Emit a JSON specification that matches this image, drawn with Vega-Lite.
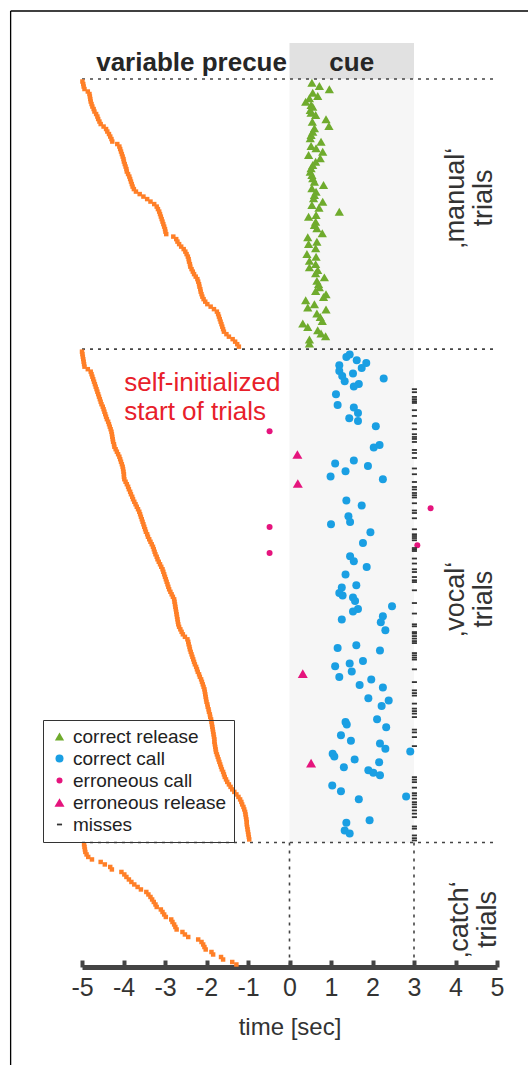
{
"$schema": "https://vega.github.io/schema/vega-lite/v6.json",
"autosize": "none",
"width": 415,
"height": 924,
"padding": {"left": 82, "top": 43, "right": 31, "bottom": 98},
"background": "white",
"config": {
  "font": "Liberation Sans",
  "view": {"stroke": null},
  "axisX": {"domainColor": "#444444", "domainWidth": 5, "tickColor": "#444444", "tickWidth": 4, "tickSize": -7, "labelFontSize": 25, "labelColor": "#333333", "labelPadding": 15, "labelFlush": false, "labelOverlap": false, "titleFontSize": 24, "titleFontWeight": "normal", "titleColor": "#333333", "titlePadding": 15, "grid": false, "values": [-5,-4,-3,-2,-1,0,1,2,3,4,5], "labelExpr": "'' + datum.value", "labelFont": "Liberation Sans", "titleFont": "Liberation Sans"}
},
"datasets": {
  "rects": [{"t":0,"t2":3,"n":0,"n2":305.2,"k":"shade"},{"t":0,"t2":3,"n":-14.4,"n2":0,"k":"head"}],
  "rules": [{"t":-5,"t2":5,"n":0,"n2":0},{"t":-5,"t2":5,"n":108,"n2":108},{"t":-5,"t2":5,"n":305.2,"n2":305.2},{"t":0,"t2":0,"n":305.2,"n2":355},{"t":3,"t2":3,"n":305.2,"n2":355}],
  "frame": [{"t":-6.72,"t2":6.8,"n":-27.2,"n2":-27.2},{"t":-6.72,"t2":-6.72,"n":-27.2,"n2":400}],
  "txt": [{"t":-2.36,"n":-6.4,"lab":"variable precue","g":"head"},{"t":1.5,"n":-6.4,"lab":"cue","g":"head"},{"t":-3.98,"n":121.6,"lab":"self-initialized\nstart of trials","g":"red"},{"t":4.02,"n":47.6,"lab":"‚manual‘\ntrials","g":"side"},{"t":4.02,"n":208,"lab":"‚vocal‘\ntrials","g":"side"},{"t":4.1,"n":336,"lab":"‚catch‘\ntrials","g":"side"}],
  "pre": [
{"n":1,"t":-4.99},{"n":2,"t":-4.97},{"n":3,"t":-4.96},{"n":4,"t":-4.94},{"n":5,"t":-4.86},{"n":6,"t":-4.82},{"n":7,"t":-4.81},{"n":8,"t":-4.8},{"n":9,"t":-4.79},{"n":10,"t":-4.77},{"n":11,"t":-4.75},{"n":12,"t":-4.72},{"n":13,"t":-4.7},{"n":14,"t":-4.66},{"n":15,"t":-4.63},{"n":16,"t":-4.61},{"n":17,"t":-4.58},{"n":18,"t":-4.55},{"n":19,"t":-4.48},{"n":20,"t":-4.42},{"n":21,"t":-4.39},{"n":22,"t":-4.35},{"n":23,"t":-4.32},{"n":24,"t":-4.29},{"n":25,"t":-4.27},{"n":26,"t":-4.15},{"n":27,"t":-4.1},{"n":28,"t":-4.08},{"n":29,"t":-4.06},{"n":30,"t":-4.04},{"n":31,"t":-4.02},{"n":32,"t":-4},{"n":33,"t":-3.99},{"n":34,"t":-3.97},{"n":35,"t":-3.95},{"n":36,"t":-3.93},{"n":37,"t":-3.92},{"n":38,"t":-3.89},{"n":39,"t":-3.86},{"n":40,"t":-3.84},{"n":41,"t":-3.82},{"n":42,"t":-3.8},{"n":43,"t":-3.78},{"n":44,"t":-3.75},{"n":45,"t":-3.7},{"n":46,"t":-3.61},{"n":47,"t":-3.52},{"n":48,"t":-3.43},{"n":49,"t":-3.35},{"n":50,"t":-3.26},{"n":51,"t":-3.2},{"n":52,"t":-3.17},{"n":53,"t":-3.14},{"n":54,"t":-3.12},{"n":55,"t":-3.1},{"n":56,"t":-3.08},{"n":57,"t":-3.06},{"n":58,"t":-3.04},{"n":59,"t":-3.02},{"n":60,"t":-3},{"n":61,"t":-2.99},{"n":62,"t":-2.97},{"n":63,"t":-2.8},{"n":64,"t":-2.73},{"n":65,"t":-2.7},{"n":66,"t":-2.66},{"n":67,"t":-2.61},{"n":68,"t":-2.55},{"n":69,"t":-2.51},{"n":70,"t":-2.48},{"n":71,"t":-2.45},{"n":72,"t":-2.43},{"n":73,"t":-2.42},{"n":74,"t":-2.4},{"n":75,"t":-2.39},{"n":76,"t":-2.36},{"n":77,"t":-2.33},{"n":78,"t":-2.3},{"n":79,"t":-2.26},{"n":80,"t":-2.22},{"n":81,"t":-2.2},{"n":82,"t":-2.18},{"n":83,"t":-2.17},{"n":84,"t":-2.15},{"n":85,"t":-2.14},{"n":86,"t":-2.12},{"n":87,"t":-2.1},{"n":88,"t":-2.07},{"n":89,"t":-2.03},{"n":90,"t":-1.98},{"n":91,"t":-1.9},{"n":92,"t":-1.82},{"n":93,"t":-1.75},{"n":94,"t":-1.72},{"n":95,"t":-1.7},{"n":96,"t":-1.68},{"n":97,"t":-1.66},{"n":98,"t":-1.64},{"n":99,"t":-1.62},{"n":100,"t":-1.6},{"n":101,"t":-1.58},{"n":102,"t":-1.52},{"n":103,"t":-1.46},{"n":104,"t":-1.37},{"n":105,"t":-1.31},{"n":106,"t":-1.26},{"n":107,"t":-1.22},
{"n":109,"t":-5},{"n":110,"t":-4.99},{"n":111,"t":-4.98},{"n":112,"t":-4.97},{"n":113,"t":-4.96},{"n":114,"t":-4.95},{"n":115,"t":-4.94},{"n":116,"t":-4.86},{"n":117,"t":-4.79},{"n":118,"t":-4.77},{"n":119,"t":-4.75},{"n":120,"t":-4.73},{"n":121,"t":-4.71},{"n":122,"t":-4.69},{"n":123,"t":-4.67},{"n":124,"t":-4.65},{"n":125,"t":-4.63},{"n":126,"t":-4.61},{"n":127,"t":-4.59},{"n":128,"t":-4.57},{"n":129,"t":-4.55},{"n":130,"t":-4.53},{"n":131,"t":-4.5},{"n":132,"t":-4.48},{"n":133,"t":-4.46},{"n":134,"t":-4.44},{"n":135,"t":-4.42},{"n":136,"t":-4.4},{"n":137,"t":-4.37},{"n":138,"t":-4.35},{"n":139,"t":-4.33},{"n":140,"t":-4.31},{"n":141,"t":-4.29},{"n":142,"t":-4.28},{"n":143,"t":-4.27},{"n":144,"t":-4.26},{"n":145,"t":-4.25},{"n":146,"t":-4.23},{"n":147,"t":-4.22},{"n":148,"t":-4.19},{"n":149,"t":-4.16},{"n":150,"t":-4.13},{"n":151,"t":-4.1},{"n":152,"t":-4.08},{"n":153,"t":-4.06},{"n":154,"t":-4.04},{"n":155,"t":-4.02},{"n":156,"t":-4.01},{"n":157,"t":-4},{"n":158,"t":-3.99},{"n":159,"t":-3.99},{"n":160,"t":-3.98},{"n":161,"t":-3.95},{"n":162,"t":-3.92},{"n":163,"t":-3.89},{"n":164,"t":-3.87},{"n":165,"t":-3.84},{"n":166,"t":-3.82},{"n":167,"t":-3.79},{"n":168,"t":-3.77},{"n":169,"t":-3.74},{"n":170,"t":-3.71},{"n":171,"t":-3.68},{"n":172,"t":-3.65},{"n":173,"t":-3.62},{"n":174,"t":-3.6},{"n":175,"t":-3.58},{"n":176,"t":-3.56},{"n":177,"t":-3.54},{"n":178,"t":-3.52},{"n":179,"t":-3.5},{"n":180,"t":-3.48},{"n":181,"t":-3.46},{"n":182,"t":-3.43},{"n":183,"t":-3.41},{"n":184,"t":-3.38},{"n":185,"t":-3.35},{"n":186,"t":-3.32},{"n":187,"t":-3.29},{"n":188,"t":-3.27},{"n":189,"t":-3.25},{"n":190,"t":-3.23},{"n":191,"t":-3.2},{"n":192,"t":-3.18},{"n":193,"t":-3.15},{"n":194,"t":-3.12},{"n":195,"t":-3.09},{"n":196,"t":-3.06},{"n":197,"t":-3.04},{"n":198,"t":-3.02},{"n":199,"t":-3},{"n":200,"t":-2.98},{"n":201,"t":-2.96},{"n":202,"t":-2.94},{"n":203,"t":-2.92},{"n":204,"t":-2.9},{"n":205,"t":-2.87},{"n":206,"t":-2.84},{"n":207,"t":-2.81},{"n":208,"t":-2.78},{"n":209,"t":-2.77},{"n":210,"t":-2.76},{"n":211,"t":-2.75},{"n":212,"t":-2.74},{"n":213,"t":-2.73},{"n":214,"t":-2.72},{"n":215,"t":-2.71},{"n":216,"t":-2.7},{"n":217,"t":-2.69},{"n":218,"t":-2.68},{"n":219,"t":-2.66},{"n":220,"t":-2.63},{"n":221,"t":-2.6},{"n":222,"t":-2.57},{"n":223,"t":-2.52},{"n":224,"t":-2.46},{"n":225,"t":-2.44},{"n":226,"t":-2.43},{"n":227,"t":-2.41},{"n":228,"t":-2.4},{"n":229,"t":-2.38},{"n":230,"t":-2.36},{"n":231,"t":-2.34},{"n":232,"t":-2.32},{"n":233,"t":-2.3},{"n":234,"t":-2.28},{"n":235,"t":-2.25},{"n":236,"t":-2.23},{"n":237,"t":-2.21},{"n":238,"t":-2.18},{"n":239,"t":-2.16},{"n":240,"t":-2.13},{"n":241,"t":-2.11},{"n":242,"t":-2.09},{"n":243,"t":-2.07},{"n":244,"t":-2.05},{"n":245,"t":-2.04},{"n":246,"t":-2.03},{"n":247,"t":-2.02},{"n":248,"t":-2.01},{"n":249,"t":-2},{"n":250,"t":-1.98},{"n":251,"t":-1.97},{"n":252,"t":-1.95},{"n":253,"t":-1.94},{"n":254,"t":-1.92},{"n":255,"t":-1.91},{"n":256,"t":-1.89},{"n":257,"t":-1.88},{"n":258,"t":-1.87},{"n":259,"t":-1.86},{"n":260,"t":-1.85},{"n":261,"t":-1.84},{"n":262,"t":-1.83},{"n":263,"t":-1.82},{"n":264,"t":-1.81},{"n":265,"t":-1.81},{"n":266,"t":-1.8},{"n":267,"t":-1.79},{"n":268,"t":-1.78},{"n":269,"t":-1.77},{"n":270,"t":-1.75},{"n":271,"t":-1.73},{"n":272,"t":-1.71},{"n":273,"t":-1.69},{"n":274,"t":-1.67},{"n":275,"t":-1.65},{"n":276,"t":-1.63},{"n":277,"t":-1.6},{"n":278,"t":-1.58},{"n":279,"t":-1.56},{"n":280,"t":-1.53},{"n":281,"t":-1.5},{"n":282,"t":-1.46},{"n":283,"t":-1.42},{"n":284,"t":-1.38},{"n":285,"t":-1.33},{"n":286,"t":-1.28},{"n":287,"t":-1.23},{"n":288,"t":-1.19},{"n":289,"t":-1.16},{"n":290,"t":-1.14},{"n":291,"t":-1.11},{"n":292,"t":-1.09},{"n":293,"t":-1.07},{"n":294,"t":-1.06},{"n":295,"t":-1.05},{"n":296,"t":-1.04},{"n":297,"t":-1.03},{"n":298,"t":-1.03},{"n":299,"t":-1.02},{"n":300,"t":-1.01},{"n":301,"t":-1},{"n":302,"t":-0.99},{"n":303,"t":-0.98},{"n":304,"t":-0.97},
{"n":306,"t":-4.95},{"n":307,"t":-4.94},{"n":308,"t":-4.93},{"n":309,"t":-4.92},{"n":310,"t":-4.89},{"n":311,"t":-4.85},{"n":312,"t":-4.76},{"n":313,"t":-4.55},{"n":314,"t":-4.45},{"n":315,"t":-4.32},{"n":316,"t":-4.28},{"n":317,"t":-4.05},{"n":318,"t":-3.98},{"n":319,"t":-3.93},{"n":320,"t":-3.87},{"n":321,"t":-3.81},{"n":322,"t":-3.74},{"n":323,"t":-3.66},{"n":324,"t":-3.58},{"n":325,"t":-3.45},{"n":326,"t":-3.4},{"n":327,"t":-3.35},{"n":328,"t":-3.31},{"n":329,"t":-3.27},{"n":330,"t":-3.23},{"n":331,"t":-3.2},{"n":332,"t":-3.1},{"n":333,"t":-3.06},{"n":334,"t":-3.02},{"n":335,"t":-2.98},{"n":336,"t":-2.85},{"n":337,"t":-2.82},{"n":338,"t":-2.78},{"n":339,"t":-2.75},{"n":340,"t":-2.72},{"n":341,"t":-2.58},{"n":342,"t":-2.52},{"n":343,"t":-2.44},{"n":344,"t":-2.2},{"n":345,"t":-2.12},{"n":346,"t":-2.08},{"n":347,"t":-2.05},{"n":348,"t":-2.02},{"n":349,"t":-1.88},{"n":350,"t":-1.84},{"n":351,"t":-1.65},{"n":352,"t":-1.6},{"n":353,"t":-1.38},{"n":354,"t":-1.28}
  ],
  "ev": [
{"n":1.5,"t":0.54,"e":"correct release"},{"n":2.8,"t":0.72,"e":"correct release"},{"n":4.1,"t":0.96,"e":"correct release"},{"n":5.5,"t":0.56,"e":"correct release"},{"n":6.8,"t":0.68,"e":"correct release"},{"n":7.7,"t":0.48,"e":"correct release"},{"n":9.1,"t":0.39,"e":"correct release"},{"n":10.4,"t":0.52,"e":"correct release"},{"n":11.1,"t":0.56,"e":"correct release"},{"n":12.4,"t":0.5,"e":"correct release"},{"n":13.5,"t":0.52,"e":"correct release"},{"n":14.4,"t":0.63,"e":"correct release"},{"n":16.1,"t":0.88,"e":"correct release"},{"n":17.1,"t":0.55,"e":"correct release"},{"n":18.8,"t":0.95,"e":"correct release"},{"n":19.7,"t":0.6,"e":"correct release"},{"n":21.1,"t":0.56,"e":"correct release"},{"n":22.4,"t":0.52,"e":"correct release"},{"n":23.7,"t":0.5,"e":"correct release"},{"n":25.1,"t":0.76,"e":"correct release"},{"n":26.8,"t":0.52,"e":"correct release"},{"n":27.7,"t":0.64,"e":"correct release"},{"n":29.1,"t":0.8,"e":"correct release"},{"n":30.4,"t":0.46,"e":"correct release"},{"n":31.7,"t":0.74,"e":"correct release"},{"n":33.1,"t":0.63,"e":"correct release"},{"n":34.4,"t":0.56,"e":"correct release"},{"n":35.7,"t":0.52,"e":"correct release"},{"n":37.1,"t":0.5,"e":"correct release"},{"n":38.4,"t":0.54,"e":"correct release"},{"n":39.7,"t":0.56,"e":"correct release"},{"n":41.1,"t":0.6,"e":"correct release"},{"n":42.4,"t":0.82,"e":"correct release"},{"n":43.7,"t":0.54,"e":"correct release"},{"n":45.1,"t":0.64,"e":"correct release"},{"n":46.4,"t":0.6,"e":"correct release"},{"n":47.7,"t":0.58,"e":"correct release"},{"n":49.1,"t":0.8,"e":"correct release"},{"n":50.4,"t":0.54,"e":"correct release"},{"n":51.5,"t":0.71,"e":"correct release"},{"n":53.1,"t":1.2,"e":"correct release"},{"n":54.4,"t":0.64,"e":"correct release"},{"n":55.1,"t":0.46,"e":"correct release"},{"n":57.1,"t":0.63,"e":"correct release"},{"n":58.4,"t":0.6,"e":"correct release"},{"n":59.7,"t":0.66,"e":"correct release"},{"n":61.7,"t":0.79,"e":"correct release"},{"n":63.3,"t":0.44,"e":"correct release"},{"n":65.1,"t":0.66,"e":"correct release"},{"n":66,"t":0.46,"e":"correct release"},{"n":67.7,"t":0.63,"e":"correct release"},{"n":70,"t":0.42,"e":"correct release"},{"n":71.1,"t":0.64,"e":"correct release"},{"n":72.7,"t":0.48,"e":"correct release"},{"n":74,"t":0.63,"e":"correct release"},{"n":75.3,"t":0.48,"e":"correct release"},{"n":76.4,"t":0.68,"e":"correct release"},{"n":77.7,"t":0.63,"e":"correct release"},{"n":79.3,"t":0.84,"e":"correct release"},{"n":80.7,"t":0.66,"e":"correct release"},{"n":82,"t":0.7,"e":"correct release"},{"n":83.3,"t":0.72,"e":"correct release"},{"n":84.7,"t":0.63,"e":"correct release"},{"n":86,"t":0.88,"e":"correct release"},{"n":87.1,"t":0.82,"e":"correct release"},{"n":88.4,"t":0.39,"e":"correct release"},{"n":90,"t":0.6,"e":"correct release"},{"n":91.3,"t":0.44,"e":"correct release"},{"n":92.1,"t":0.88,"e":"correct release"},{"n":93.7,"t":0.66,"e":"correct release"},{"n":95.1,"t":0.74,"e":"correct release"},{"n":96.7,"t":0.79,"e":"correct release"},{"n":97.7,"t":0.32,"e":"correct release"},{"n":99.1,"t":0.44,"e":"correct release"},{"n":100.4,"t":0.68,"e":"correct release"},{"n":101.7,"t":0.76,"e":"correct release"},{"n":102.8,"t":0.87,"e":"correct release"},{"n":104.1,"t":0.48,"e":"correct release"},{"n":105.7,"t":0.48,"e":"correct release"},
{"n":111.1,"t":1.37,"e":"correct call"},{"n":110.1,"t":1.45,"e":"correct call"},{"n":112.4,"t":1.62,"e":"correct call"},{"n":113.5,"t":1.85,"e":"correct call"},{"n":114.4,"t":1.2,"e":"correct call"},{"n":115.5,"t":1.74,"e":"correct call"},{"n":116.7,"t":1.2,"e":"correct call"},{"n":117.7,"t":1.53,"e":"correct call"},{"n":118.7,"t":1.27,"e":"correct call"},{"n":119.7,"t":2.27,"e":"correct call"},{"n":120.8,"t":1.33,"e":"correct call"},{"n":121.9,"t":1.67,"e":"correct call"},{"n":122.9,"t":1.55,"e":"correct call"},{"n":126,"t":1.12,"e":"correct call"},{"n":130.3,"t":1.16,"e":"correct call"},{"n":131.3,"t":1.55,"e":"correct call"},{"n":133.5,"t":1.65,"e":"correct call"},{"n":135.6,"t":1.44,"e":"correct call"},{"n":136.7,"t":1.65,"e":"correct call"},{"n":138.8,"t":2.08,"e":"correct call"},{"n":146.3,"t":2.17,"e":"correct call"},{"n":147.3,"t":2.03,"e":"correct call"},{"n":152.5,"t":1.55,"e":"correct call"},{"n":153.7,"t":1.1,"e":"correct call"},{"n":154.7,"t":1.89,"e":"correct call"},{"n":156.8,"t":1.35,"e":"correct call"},{"n":158.9,"t":0.99,"e":"correct call"},{"n":160,"t":2.25,"e":"correct call"},{"n":168.5,"t":1.37,"e":"correct call"},{"n":170.5,"t":1.74,"e":"correct call"},{"n":174.8,"t":1.42,"e":"correct call"},{"n":177.1,"t":1.46,"e":"correct call"},{"n":178,"t":1,"e":"correct call"},{"n":181.2,"t":1.95,"e":"correct call"},{"n":185.5,"t":1.77,"e":"correct call"},{"n":190.8,"t":1.46,"e":"correct call"},{"n":192.8,"t":1.55,"e":"correct call"},{"n":195.1,"t":1.86,"e":"correct call"},{"n":198.1,"t":1.35,"e":"correct call"},{"n":202.4,"t":1.61,"e":"correct call"},{"n":203.3,"t":1.26,"e":"correct call"},
{"n":205.5,"t":1.2,"e":"correct call"},{"n":206.5,"t":1.28,"e":"correct call"},{"n":207.3,"t":1.53,"e":"correct call"},{"n":208.7,"t":1.58,"e":"correct call"},{"n":210.8,"t":2.47,"e":"correct call"},{"n":211.9,"t":1.65,"e":"correct call"},{"n":212.9,"t":1.53,"e":"correct call"},{"n":214.8,"t":2.25,"e":"correct call"},{"n":216.1,"t":1.26,"e":"correct call"},{"n":217.2,"t":2.2,"e":"correct call"},{"n":220.4,"t":2.31,"e":"correct call"},{"n":226.4,"t":1.61,"e":"correct call"},{"n":227.5,"t":1.16,"e":"correct call"},{"n":228.5,"t":2.18,"e":"correct call"},{"n":232.7,"t":1.77,"e":"correct call"},{"n":233.7,"t":1.45,"e":"correct call"},{"n":234.8,"t":1.1,"e":"correct call"},{"n":236.9,"t":1.5,"e":"correct call"},{"n":239.1,"t":1.2,"e":"correct call"},{"n":240.1,"t":1.97,"e":"correct call"},{"n":242.3,"t":1.69,"e":"correct call"},{"n":243.3,"t":2.25,"e":"correct call"},{"n":247.6,"t":1.9,"e":"correct call"},{"n":248.5,"t":2.39,"e":"correct call"},{"n":250.7,"t":2.22,"e":"correct call"},{"n":256,"t":2.11,"e":"correct call"},{"n":257.1,"t":1.35,"e":"correct call"},{"n":258.1,"t":1.38,"e":"correct call"},{"n":259.2,"t":2.33,"e":"correct call"},{"n":262.4,"t":1.24,"e":"correct call"},{"n":264.5,"t":1.48,"e":"correct call"},{"n":265.6,"t":2.18,"e":"correct call"},{"n":267.7,"t":2.31,"e":"correct call"},{"n":268.8,"t":2.91,"e":"correct call"},{"n":269.7,"t":1.04,"e":"correct call"},{"n":270.8,"t":1.08,"e":"correct call"},{"n":272,"t":1.57,"e":"correct call"},{"n":273.1,"t":2.16,"e":"correct call"},{"n":275.1,"t":1.31,"e":"correct call"},{"n":276.3,"t":1.9,"e":"correct call"},{"n":277.3,"t":2.02,"e":"correct call"},{"n":278.3,"t":2.18,"e":"correct call"},{"n":282.4,"t":1.03,"e":"correct call"},{"n":284.7,"t":1.24,"e":"correct call"},{"n":286.8,"t":2.81,"e":"correct call"},{"n":287.9,"t":1.67,"e":"correct call"},{"n":296.3,"t":1.93,"e":"correct call"},{"n":297.3,"t":1.37,"e":"correct call"},{"n":300.4,"t":1.33,"e":"correct call"},{"n":301.6,"t":1.45,"e":"correct call"},
{"n":140.8,"t":-0.48,"e":"erroneous call"},{"n":179.1,"t":-0.48,"e":"erroneous call"},{"n":189.5,"t":-0.48,"e":"erroneous call"},{"n":171.6,"t":3.4,"e":"erroneous call"},{"n":186.4,"t":3.08,"e":"erroneous call"},
{"n":150.1,"t":0.19,"e":"erroneous release"},{"n":161.7,"t":0.2,"e":"erroneous release"},{"n":237.7,"t":0.32,"e":"erroneous release"},{"n":273.5,"t":0.52,"e":"erroneous release"},
{"n":124,"t":3.01,"e":"misses"},{"n":125.2,"t":3.01,"e":"misses"},{"n":127.1,"t":3.01,"e":"misses"},{"n":128,"t":3.01,"e":"misses"},{"n":128.8,"t":3.01,"e":"misses"},{"n":129.5,"t":3.01,"e":"misses"},{"n":132.4,"t":3.01,"e":"misses"},{"n":134.7,"t":3.01,"e":"misses"},{"n":137.7,"t":3.01,"e":"misses"},{"n":140,"t":3.01,"e":"misses"},{"n":142,"t":3.01,"e":"misses"},{"n":143.1,"t":3.01,"e":"misses"},{"n":143.9,"t":3.01,"e":"misses"},{"n":145.1,"t":3.01,"e":"misses"},{"n":148.3,"t":3.01,"e":"misses"},{"n":149.5,"t":3.01,"e":"misses"},{"n":151.5,"t":3.01,"e":"misses"},{"n":155.7,"t":3.01,"e":"misses"},{"n":158,"t":3.01,"e":"misses"},{"n":161.1,"t":3.01,"e":"misses"},{"n":163.1,"t":3.01,"e":"misses"},{"n":164.1,"t":3.01,"e":"misses"},{"n":165.5,"t":3.01,"e":"misses"},{"n":166.4,"t":3.01,"e":"misses"},{"n":167.3,"t":3.01,"e":"misses"},{"n":169.6,"t":3.01,"e":"misses"},{"n":172.5,"t":3.01,"e":"misses"},{"n":173.5,"t":3.01,"e":"misses"},{"n":175.6,"t":3.01,"e":"misses"},{"n":180,"t":3.01,"e":"misses"},{"n":182,"t":3.01,"e":"misses"},{"n":182.7,"t":3.01,"e":"misses"},{"n":183.5,"t":3.01,"e":"misses"},{"n":184.4,"t":3.01,"e":"misses"},{"n":187.5,"t":3.01,"e":"misses"},{"n":188.1,"t":3.01,"e":"misses"},{"n":188.7,"t":3.01,"e":"misses"},{"n":191.7,"t":3.01,"e":"misses"},{"n":193.7,"t":3.01,"e":"misses"},{"n":196,"t":3.01,"e":"misses"},{"n":197.1,"t":3.01,"e":"misses"},{"n":199.1,"t":3.01,"e":"misses"},{"n":200.4,"t":3.01,"e":"misses"},{"n":201.1,"t":3.01,"e":"misses"},{"n":204.4,"t":3.01,"e":"misses"},{"n":209.5,"t":3.01,"e":"misses"},{"n":213.7,"t":3.01,"e":"misses"},{"n":218,"t":3.01,"e":"misses"},{"n":218.8,"t":3.01,"e":"misses"},{"n":221.1,"t":3.01,"e":"misses"},{"n":221.7,"t":3.01,"e":"misses"},{"n":222.7,"t":3.01,"e":"misses"},{"n":223.7,"t":3.01,"e":"misses"},{"n":224.7,"t":3.01,"e":"misses"},{"n":225.5,"t":3.01,"e":"misses"},{"n":229.5,"t":3.01,"e":"misses"},{"n":230.4,"t":3.01,"e":"misses"},{"n":231.3,"t":3.01,"e":"misses"},{"n":232.1,"t":3.01,"e":"misses"},{"n":236,"t":3.01,"e":"misses"},{"n":241.1,"t":3.01,"e":"misses"},{"n":244.4,"t":3.01,"e":"misses"},{"n":245.5,"t":3.01,"e":"misses"},{"n":246.5,"t":3.01,"e":"misses"},{"n":249.7,"t":3.01,"e":"misses"},{"n":251.7,"t":3.01,"e":"misses"},{"n":252.7,"t":3.01,"e":"misses"},{"n":253.7,"t":3.01,"e":"misses"},{"n":255.1,"t":3.01,"e":"misses"},{"n":260.1,"t":3.01,"e":"misses"},{"n":261.2,"t":3.01,"e":"misses"},{"n":263.1,"t":3.01,"e":"misses"},{"n":266.7,"t":3.01,"e":"misses"},{"n":279.1,"t":3.01,"e":"misses"},{"n":280.1,"t":3.01,"e":"misses"},{"n":281.1,"t":3.01,"e":"misses"},{"n":283.3,"t":3.01,"e":"misses"},{"n":285.5,"t":3.01,"e":"misses"},{"n":286.4,"t":3.01,"e":"misses"},{"n":287.7,"t":3.01,"e":"misses"},{"n":289.1,"t":3.01,"e":"misses"},{"n":290,"t":3.01,"e":"misses"},{"n":291.1,"t":3.01,"e":"misses"},{"n":292.4,"t":3.01,"e":"misses"},{"n":293.7,"t":3.01,"e":"misses"},{"n":295.1,"t":3.01,"e":"misses"},{"n":298.8,"t":3.01,"e":"misses"},{"n":299.7,"t":3.01,"e":"misses"},{"n":302.4,"t":3.01,"e":"misses"},{"n":303.5,"t":3.01,"e":"misses"},{"n":304.4,"t":3.01,"e":"misses"}
  ]
},
"encoding": {
  "x": {"field": "t", "type": "quantitative", "scale": {"domain": [-5, 5], "nice": false, "zero": false}, "title": "time [sec]"},
  "y": {"field": "n", "type": "quantitative", "scale": {"domain": [-14.4, 355], "reverse": true, "nice": false, "zero": false}, "axis": null}
},
"layer": [
  {"data": {"name": "rects"}, "transform": [{"filter": "datum.k === 'shade'"}], "mark": {"type": "rect", "color": "#f6f6f6"}, "encoding": {"x2": {"field": "t2"}, "y2": {"field": "n2"}}},
  {"data": {"name": "rects"}, "transform": [{"filter": "datum.k === 'head'"}], "mark": {"type": "rect", "color": "#e1e1e1"}, "encoding": {"x2": {"field": "t2"}, "y2": {"field": "n2"}}},
  {"data": {"name": "rules"}, "mark": {"type": "rule", "color": "#444444", "strokeDash": [3, 5], "strokeWidth": 1.6}, "encoding": {"x2": {"field": "t2"}, "y2": {"field": "n2"}}},
  {"data": {"name": "pre"}, "mark": {"type": "point", "shape": "square", "filled": true, "color": "#ff7f27", "size": 20, "opacity": 1}},
  {"data": {"name": "ev"}, "mark": {"type": "point", "filled": true, "opacity": 1},
   "encoding": {
     "color": {"field": "e", "type": "nominal", "scale": {"domain": ["correct release", "correct call", "erroneous call", "erroneous release", "misses"], "range": ["#6fab2d", "#1a9fe3", "#e5147d", "#e5147d", "#333333"]},
       "legend": {"title": null, "orient": "none", "legendX": -39, "legendY": 677, "strokeColor": "#333333", "padding": 7, "labelFontSize": 19, "labelColor": "#222222", "rowPadding": 2, "labelOffset": 4, "symbolOpacity": 1, "labelFont": "Liberation Sans"}},
     "shape": {"field": "e", "type": "nominal", "scale": {"domain": ["correct release", "correct call", "erroneous call", "erroneous release", "misses"], "range": ["triangle-up", "circle", "circle", "triangle-up", "M-1,-0.35H1V0.35H-1Z"]},
       "legend": {"title": null, "orient": "none", "legendX": -39, "legendY": 677, "strokeColor": "#333333", "padding": 7, "labelFontSize": 19, "labelColor": "#222222", "rowPadding": 2, "labelOffset": 4, "symbolOpacity": 1, "labelFont": "Liberation Sans"}},
     "size": {"field": "e", "type": "nominal", "scale": {"type": "ordinal", "domain": ["correct release", "correct call", "erroneous call", "erroneous release", "misses"], "range": [85, 64, 36, 100, 26]},
       "legend": {"title": null, "orient": "none", "legendX": -39, "legendY": 677, "strokeColor": "#333333", "padding": 7, "labelFontSize": 19, "labelColor": "#222222", "rowPadding": 2, "labelOffset": 4, "symbolOpacity": 1, "labelFont": "Liberation Sans"}}
   }},
  {"data": {"name": "txt"}, "transform": [{"filter": "datum.g === 'head'"}], "mark": {"type": "text", "fontSize": 26, "fontWeight": "bold", "color": "#262626", "align": "center", "baseline": "middle", "font": "Liberation Sans"}, "encoding": {"text": {"field": "lab"}}},
  {"data": {"name": "txt"}, "transform": [{"filter": "datum.g === 'red'"}], "mark": {"type": "text", "fontSize": 26, "color": "#e8202a", "align": "left", "baseline": "middle", "lineBreak": "\n", "lineHeight": 29, "font": "Liberation Sans"}, "encoding": {"text": {"field": "lab"}}},
  {"data": {"name": "txt"}, "transform": [{"filter": "datum.g === 'side'"}], "mark": {"type": "text", "fontSize": 27, "color": "#333333", "align": "center", "baseline": "middle", "angle": 270, "lineBreak": "\n", "lineHeight": 28, "font": "Liberation Sans"}, "encoding": {"text": {"field": "lab"}}},
  {"data": {"name": "frame"}, "mark": {"type": "rule", "color": "#000000", "strokeWidth": 1.3}, "encoding": {"x2": {"field": "t2"}, "y2": {"field": "n2"}}}
]
}
